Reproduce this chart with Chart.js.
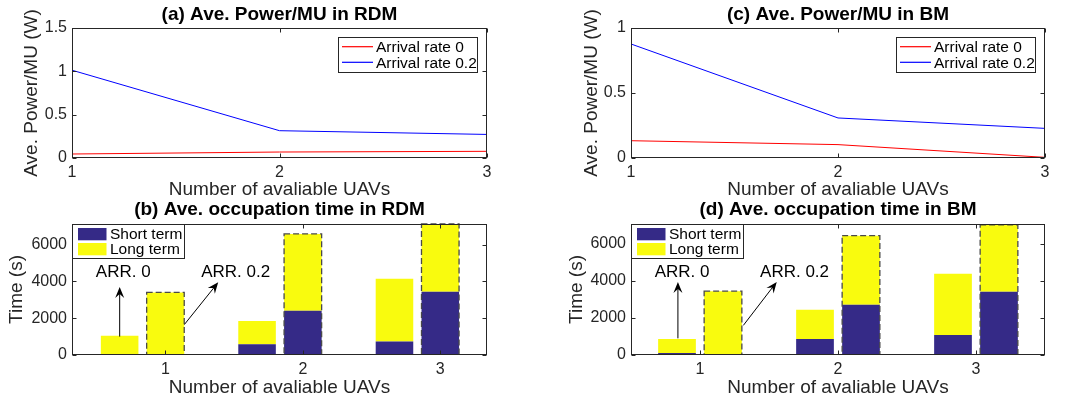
<!DOCTYPE html>
<html>
<head>
<meta charset="utf-8">
<script src="https://cdn.jsdelivr.net/npm/chart.js@4.4.0/dist/chart.umd.min.js"></script>
<style>
  html, body { margin: 0; padding: 0; background: #fff; }
  body { width: 1073px; height: 403px; position: relative; overflow: hidden; }
  canvas { position: absolute; }
</style>
</head>
<body>
<canvas id="powerRdm" width="530" height="205" style="left:0;top:0"></canvas>
<canvas id="powerBm" width="543" height="205" style="left:530px;top:0"></canvas>
<canvas id="timeRdm" width="530" height="207" style="left:0;top:196px"></canvas>
<canvas id="timeBm" width="543" height="207" style="left:530px;top:196px"></canvas>
<script>
const uavCounts = [1, 2, 3]
const rateLabels = ["Arrival rate 0", "Arrival rate 0.2"]
const termLabels = ["Short term", "Long term"]

// (a) / (c) average power per MU, W
const powerRdmRate0 = [0.046, 0.069, 0.077]
const powerRdmRate02 = [1.013, 0.315, 0.272]
const powerBmRate0 = [0.133, 0.103, 0.005]
const powerBmRate02 = [0.877, 0.308, 0.228]

// (b) / (d) occupation time, s (short part + long part of each stacked bar)
const timeRdmShort0 = [50, 590, 730]
const timeRdmLong0 = [990, 1260, 3415]
const timeRdmShort02 = [0, 2400, 3436]
const timeRdmLong02 = [3400, 4182, 3684]
const timeBmShort0 = [108, 867, 1075]
const timeBmLong0 = [759, 1573, 3316]
const timeBmShort02 = [0, 2711, 3415]
const timeBmLong02 = [3452, 3740, 3625]

const powerRdmTicks = [0, 0.5, 1, 1.5]
const powerBmTicks = [0, 0.5, 1]
const timeTicks = [0, 2000, 4000, 6000]

const FONT = "'Liberation Sans', Arial, Helvetica, sans-serif"
const AXIS = "#262626"
const NAVY = "#352a87"
const YELLOW = "#f9fb0e"

Chart.defaults.font.family = FONT
Chart.defaults.color = AXIS

// axes box with inward tick marks and a title centred over the plot, like the matlab figure
const framePlugin = {
  id: "frame",
  afterDraw(chart, args, opts) {
    const { ctx, chartArea: a, scales } = chart
    const L = Math.round(a.left) + 0.5, R = Math.round(a.right) - 0.5
    const T = Math.round(a.top) + 0.5, B = Math.round(a.bottom) - 0.5
    ctx.save()
    ctx.strokeStyle = AXIS
    ctx.lineWidth = 1
    ctx.strokeRect(L, T, R - L, B - T)
    ctx.beginPath()
    scales.y.ticks.forEach(t => {
      const py = Math.round(scales.y.getPixelForValue(t.value)) + 0.5
      ctx.moveTo(L, py); ctx.lineTo(L + 4, py)
      ctx.moveTo(R, py); ctx.lineTo(R - 4, py)
    })
    scales.x.ticks.forEach(t => {
      const px = Math.round(scales.x.getPixelForValue(t.value)) + 0.5
      ctx.moveTo(px, B); ctx.lineTo(px, B - 4)
      ctx.moveTo(px, T); ctx.lineTo(px, T + 4)
    })
    ctx.stroke()
    if (opts.title) {
      ctx.fillStyle = "#000"
      ctx.font = "bold 19px " + FONT
      ctx.textAlign = "center"
      ctx.textBaseline = "middle"
      ctx.fillText(opts.title, (a.left + a.right) / 2, opts.titleY)
    }
    ctx.restore()
  }
}

// boxed legend drawn inside the plot area
const boxLegendPlugin = {
  id: "boxLegend",
  afterDraw(chart, args, opts) {
    if (!opts.kind) return
    const { ctx, chartArea: a } = chart
    const left = opts.kind === "line" ? a.right - opts.inset - opts.width : a.left
    const top = opts.kind === "line" ? a.top + opts.top : a.top
    ctx.save()
    ctx.fillStyle = "#fff"
    ctx.fillRect(left, top, opts.width, opts.height)
    ctx.strokeStyle = AXIS
    ctx.lineWidth = 1
    ctx.strokeRect(Math.round(left) + 0.5, Math.round(top) + 0.5, opts.width, opts.height)
    ctx.font = "15.5px " + FONT
    ctx.textBaseline = "middle"
    ctx.textAlign = "left"
    chart.data.datasets.forEach((ds, i) => {
      const cy = top + opts.firstRow + i * opts.rowGap
      const style = chart.getDatasetMeta(i).controller.getStyle(0)
      if (opts.kind === "line") {
        ctx.strokeStyle = style.borderColor
        ctx.lineWidth = 1.2
        ctx.beginPath()
        ctx.moveTo(left + 4, cy)
        ctx.lineTo(left + 35, cy)
        ctx.stroke()
        ctx.fillStyle = "#000"
        ctx.fillText(ds.label, left + 38, cy + 1)
      } else {
        ctx.fillStyle = style.backgroundColor
        ctx.fillRect(left + 6, cy - 6, 28.5, 12.3)
        ctx.fillStyle = "#000"
        ctx.fillText(ds.label, left + 38, cy + 1)
      }
    })
    ctx.restore()
  }
}

// dashed outline around the arrival-rate-0.2 bars (and the empty slot bars)
const dashPlugin = {
  id: "dashOutline",
  afterDatasetsDraw(chart, args, opts) {
    if (!opts.every) return
    const { ctx, chartArea: a } = chart
    const low = chart.getDatasetMeta(0).data
    const high = chart.getDatasetMeta(1).data
    ctx.save()
    ctx.beginPath()
    ctx.rect(a.left, a.top - 2, a.right - a.left, a.bottom - a.top + 2)
    ctx.clip()
    ctx.strokeStyle = "#4a4a4a"
    ctx.lineWidth = 1.3
    ctx.setLineDash([6, 3])
    low.forEach((el, i) => {
      if (i % opts.every === 0) return
      const w = el.width
      const x0 = el.x - w / 2
      const top = Math.min(el.y, high[i].y)
      const bottom = el.base
      ctx.strokeRect(x0, top, w, bottom - top)
    })
    ctx.restore()
  }
}

// "ARR." labels with arrows, placed in data coordinates
const notesPlugin = {
  id: "arrowNotes",
  afterDatasetsDraw(chart, args, opts) {
    if (!opts.notes) return
    const { ctx, scales: { x, y } } = chart
    ctx.save()
    ctx.fillStyle = "#000"
    ctx.strokeStyle = "#000"
    ctx.lineWidth = 1
    ctx.font = "17px " + FONT
    ctx.textAlign = "center"
    ctx.textBaseline = "middle"
    opts.notes.forEach(n => ctx.fillText(n.text, x.getPixelForValue(n.x), y.getPixelForValue(n.y)))
    opts.arrows.forEach(([x0, y0, x1, y1]) => {
      const ax = x.getPixelForValue(x0), ay = y.getPixelForValue(y0)
      const bx = x.getPixelForValue(x1), by = y.getPixelForValue(y1)
      const ang = Math.atan2(by - ay, bx - ax)
      const c = Math.cos(ang), s = Math.sin(ang)
      const len = 11, half = 4.5
      ctx.beginPath()
      ctx.moveTo(ax, ay)
      ctx.lineTo(bx - c * 6, by - s * 6)
      ctx.stroke()
      ctx.beginPath()
      ctx.moveTo(bx, by)
      ctx.lineTo(bx - len * c - half * s, by - len * s + half * c)
      ctx.lineTo(bx - 0.65 * len * c, by - 0.65 * len * s)
      ctx.lineTo(bx - len * c + half * s, by - len * s - half * c)
      ctx.closePath()
      ctx.fill()
    })
    ctx.restore()
  }
}

const plugins = [framePlugin, boxLegendPlugin, dashPlugin, notesPlugin]

function axisX(p, min, max) {
  return {
    type: "linear",
    min: min,
    max: max,
    offset: false,
    stacked: p.stacked,
    afterBuildTicks: s => { s.ticks = uavCounts.map(v => ({ value: v })) },
    afterFit: s => { s.height = p.xHeight },
    grid: { display: false, drawTicks: false, offset: false },
    border: { display: false },
    ticks: { padding: 5, color: AXIS, font: { size: 16 }, maxRotation: 0, callback: v => String(v) },
    title: {
      display: true,
      text: "Number of avaliable UAVs",
      color: AXIS,
      font: { size: 19 },
      padding: { top: 0, bottom: p.xTitlePad }
    }
  }
}

function axisY(p, ticks, max, text) {
  return {
    min: 0,
    max: max,
    stacked: p.stacked,
    afterBuildTicks: s => { s.ticks = ticks.map(v => ({ value: v })) },
    afterFit: s => { s.width = p.yWidth },
    grid: { display: false, drawTicks: false },
    border: { display: false },
    ticks: { padding: 5, color: AXIS, font: { size: 16 }, callback: v => String(v) },
    title: {
      display: true,
      text: text,
      color: AXIS,
      font: { size: 19 },
      padding: { top: p.yTitlePad, bottom: 0 }
    }
  }
}

function layoutOpts(p) {
  return { padding: { left: 0, right: p.padRight, top: 28, bottom: 0 }, autoPadding: false }
}

function powerChart(id, title, rate0, rate02, ticks, p) {
  return new Chart(document.getElementById(id), {
    type: "line",
    data: {
      datasets: [
        {
          label: rateLabels[0],
          data: uavCounts.map((u, i) => ({ x: u, y: rate0[i] })),
          borderColor: "#ff0000",
          borderWidth: 1,
          pointRadius: 0,
          tension: 0
        },
        {
          label: rateLabels[1],
          data: uavCounts.map((u, i) => ({ x: u, y: rate02[i] })),
          borderColor: "#0000ff",
          borderWidth: 1,
          pointRadius: 0,
          tension: 0
        }
      ]
    },
    options: {
      responsive: false,
      animation: false,
      layout: layoutOpts(p),
      plugins: {
        legend: { display: false },
        tooltip: { enabled: false },
        title: { display: false },
        frame: { title: title, titleY: 14.5 },
        boxLegend: { kind: "line", inset: 10, top: 9, width: 139, height: 35, firstRow: 9.7, rowGap: 15.6 },
        dashOutline: {},
        arrowNotes: {}
      },
      scales: {
        x: axisX(p, 1, 3),
        y: axisY(p, ticks, ticks[ticks.length - 1], "Ave. Power/MU (W)")
      }
    },
    plugins: plugins
  })
}

function slotPoints(rate0, rate02, offsets) {
  const pts = []
  uavCounts.forEach((u, i) => {
    pts.push({ x: u + offsets[0], y: rate0[i] })
    pts.push({ x: u + offsets[1], y: rate02[i] })
    pts.push({ x: u + offsets[2], y: 0 })
  })
  return pts
}

function timeChart(id, title, short0, long0, short02, long02, p) {
  return new Chart(document.getElementById(id), {
    type: "bar",
    data: {
      datasets: [
        {
          label: termLabels[0],
          data: slotPoints(short0, short02, p.offsets),
          backgroundColor: NAVY,
          borderWidth: 0,
          barPercentage: 0.82,
          categoryPercentage: 1
        },
        {
          label: termLabels[1],
          data: slotPoints(long0, long02, p.offsets),
          backgroundColor: YELLOW,
          borderWidth: 0,
          barPercentage: 0.82,
          categoryPercentage: 1
        }
      ]
    },
    options: {
      responsive: false,
      animation: false,
      layout: layoutOpts(p),
      plugins: {
        legend: { display: false },
        tooltip: { enabled: false },
        title: { display: false },
        frame: { title: title, titleY: 14 },
        boxLegend: { kind: "patch", width: 112, height: 34, firstRow: 10, rowGap: 15 },
        dashOutline: { every: 3 },
        arrowNotes: { notes: p.notes, arrows: p.arrows }
      },
      scales: {
        x: axisX(p, p.xMin, p.xMax),
        y: axisY(p, timeTicks, p.yMax, "Time (s)")
      }
    },
    plugins: plugins
  })
}

powerChart("powerRdm", "(a) Ave. Power/MU in RDM", powerRdmRate0, powerRdmRate02, powerRdmTicks, {
  yWidth: 72, padRight: 43, xHeight: 47, xTitlePad: 3.6, yTitlePad: 20
})

powerChart("powerBm", "(c) Ave. Power/MU in BM", powerBmRate0, powerBmRate02, powerBmTicks, {
  yWidth: 101, padRight: 28, xHeight: 47, xTitlePad: 3.6, yTitlePad: 50
})

timeChart("timeRdm", "(b) Ave. occupation time in RDM", timeRdmShort0, timeRdmLong0, timeRdmShort02, timeRdmLong02, {
  stacked: true, yWidth: 72, padRight: 43, xHeight: 48, xTitlePad: 4,
  yTitlePad: 5.5, xMin: 0.32, xMax: 3.34, yMax: 7120,
  offsets: [-1 / 3, 0, 1 / 3],
  notes: [{ text: "ARR. 0", x: 0.693, y: 4500 }, { text: "ARR. 0.2", x: 1.511, y: 4500 }],
  arrows: [[0.667, 1000, 0.667, 3700], [1.137, 1650, 1.384, 3950]]
})

timeChart("timeBm", "(d) Ave. occupation time in BM", timeBmShort0, timeBmLong0, timeBmShort02, timeBmLong02, {
  stacked: true, yWidth: 101, padRight: 28, xHeight: 48, xTitlePad: 4,
  yTitlePad: 35.5, xMin: 0.5, xMax: 3.5, yMax: 7080,
  offsets: [-1 / 6, 1 / 6, 1 / 2],
  notes: [{ text: "ARR. 0", x: 0.87, y: 4480 }, { text: "ARR. 0.2", x: 1.685, y: 4480 }],
  arrows: [[0.84, 900, 0.84, 3950], [1.314, 1600, 1.556, 3950]]
})
</script>
</body>
</html>
